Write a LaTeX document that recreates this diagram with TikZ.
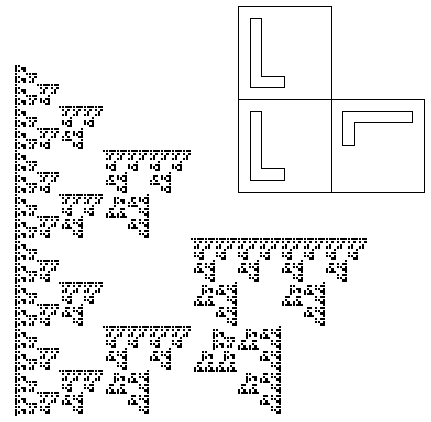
\documentclass[tikz,border=0pt]{standalone}
\tikzset{
  cell/.style={draw=black,line width=0.9pt},
  lshape/.style={draw=black,line width=0.8pt,line join=miter},
  dotleaf/.style={fill=black,draw=none},
}
\newcommand{\Lpoly}[4]{% x, y, unit (pt per eighth), rotation (quarter turns clockwise)
  \draw[lshape,shift={(#1,#2)},x=#3pt,y=#3pt]
  \ifcase#4\relax
    (1,1)--(4,1)--(4,2)--(2,2)--(2,7)--(1,7)--cycle
  \or
    (1,7)--(1,4)--(2,4)--(2,6)--(7,6)--(7,7)--cycle
  \or
    (7,7)--(4,7)--(4,6)--(6,6)--(6,1)--(7,1)--cycle
  \or
    (7,1)--(7,4)--(6,4)--(6,2)--(1,2)--(1,1)--cycle
  \fi;}
% grid offset (in cells) of a leaf by its rotation
\newcommand{\Tile}[5]{% depth, x, y, size (in cells), rot
  \ifnum#1=0
    \ifcase#5\relax \def\ox{0}\def\oy{0}\or \def\ox{0}\def\oy{1}\or \def\ox{1}\def\oy{1}\or \def\ox{1}\def\oy{0}\fi
    \pgfmathsetmacro\px{\FX+(#2+\ox)*\FC+0.5*(\FC-\FDX)}%
    \pgfmathsetmacro\py{\FY+(#3+\oy)*\FC+0.5*(\FC-\FDY)}%
    \fill[dotleaf] (\px,\py) rectangle ++(\FDX,\FDY);%
  \else
    \expandafter\TileKids\expandafter{\the\numexpr#1-1\expandafter}\expandafter{\the\numexpr#4/2\relax}{#2}{#3}{#5}%
  \fi}
\newcommand{\TileKids}[5]{% depth, half, x, y, rot
  \ifcase#5\relax
    \Sub{#1}{#3}{\the\numexpr#4+#2}{#2}{#5}%
    \Sub{#1}{#3}{#4}{#2}{#5}%
    \Sub{#1}{\the\numexpr#3+#2}{#4}{#2}{1}%
  \or
    \Sub{#1}{\the\numexpr#3+#2}{\the\numexpr#4+#2}{#2}{#5}%
    \Sub{#1}{#3}{\the\numexpr#4+#2}{#2}{#5}%
    \Sub{#1}{#3}{#4}{#2}{2}%
  \or
    \Sub{#1}{\the\numexpr#3+#2}{#4}{#2}{#5}%
    \Sub{#1}{\the\numexpr#3+#2}{\the\numexpr#4+#2}{#2}{#5}%
    \Sub{#1}{#3}{\the\numexpr#4+#2}{#2}{3}%
  \or
    \Sub{#1}{#3}{#4}{#2}{#5}%
    \Sub{#1}{\the\numexpr#3+#2}{#4}{#2}{#5}%
    \Sub{#1}{\the\numexpr#3+#2}{\the\numexpr#4+#2}{#2}{0}%
  \fi}
\newcommand{\Sub}[5]{\edef\tmpa{\noexpand\Tile{#1}{#2}{#3}{#4}{#5}}\tmpa}
\begin{document}
\begin{tikzpicture}[x=1pt,y=1pt]
  \useasboundingbox (0,0) rectangle (431,421);
  \draw[cell] (238.5,421-6.7) rectangle (331,421-99.3);
  \draw[cell] (238.5,421-99.3) rectangle (331,421-192);
  \draw[cell] (331,421-99.3) rectangle (424,421-192);
  \Lpoly{238.5pt}{421pt-99.3pt}{11.58}{0}
  \Lpoly{238.5pt}{421pt-192pt}{11.58}{0}
  \Lpoly{331pt}{421pt-192pt}{11.58}{1}
  \def\FX{14.8}\def\FY{4.5}\def\FC{2.75}\def\FDX{2.25}\def\FDY{2.25}
  \Tile{7}{0}{0}{128}{0}
\end{tikzpicture}
\end{document}
